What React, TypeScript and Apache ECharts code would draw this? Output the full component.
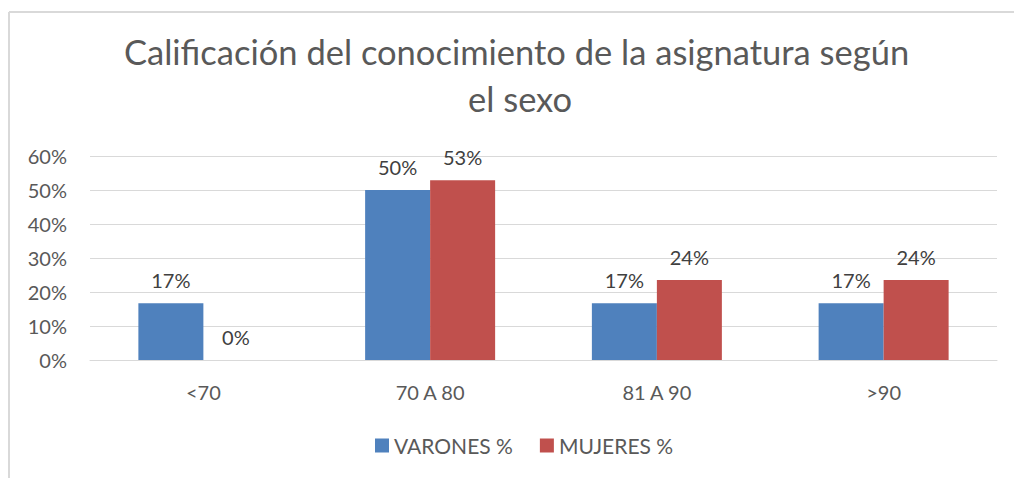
import React, { useEffect, useRef } from "react";
import * as echarts from "echarts";

const categories = ["<70", "70 A 80", "81 A 90", ">90"];
const varones = [0.167, 0.5, 0.167, 0.167];
const mujeres = [0, 0.529, 0.235, 0.235];
const seriesNames = ["VARONES %", "MUJERES %"];
const titleLines = ["Calificación del conocimiento de la asignatura según", "el sexo"];

const FONT = "Lato, 'Noto Sans', sans-serif";
const TEXT = "#595959";

export default function App() {
  const ref = useRef<HTMLDivElement>(null);
  useEffect(() => {
    if (!ref.current) return;
    const chart = echarts.init(ref.current, undefined, { renderer: "svg" });
    const label = {
      show: true,
      position: "top",
      distance: 13,
      fontSize: 20,
      color: "#404040",
      fontFamily: FONT,
      formatter: (p: any) => Math.round(p.value * 100) + "%",
    };
    const titleStyle = { fontSize: 34.5, fontWeight: "normal", color: TEXT, fontFamily: FONT };
    chart.setOption({
      animation: false,
      backgroundColor: "#fff",
      textStyle: { fontFamily: FONT },
      title: [
        { text: titleLines[0], left: 124, top: 34, padding: 0, textStyle: titleStyle },
        { text: titleLines[1], left: 468, top: 81, padding: 0, textStyle: titleStyle },
      ],
      graphic: [
        { type: "line", shape: { x1: 9, y1: 12, x2: 9, y2: 478 }, style: { stroke: "#d9d9d9", lineWidth: 2 } },
        { type: "line", shape: { x1: 9, y1: 12, x2: 1014, y2: 12 }, style: { stroke: "#d9d9d9", lineWidth: 2 } },
      ],
      legend: {
        data: seriesNames,
        left: 375,
        top: 435,
        padding: 0,
        itemWidth: 14,
        itemHeight: 14,
        itemGap: 27,
        icon: "rect",
        textStyle: { fontSize: 21, color: TEXT, fontFamily: FONT },
      },
      grid: { left: 90, right: 17, top: 156, bottom: 118 },
      xAxis: {
        type: "category",
        data: categories,
        axisLine: { lineStyle: { color: "#d9d9d9" } },
        axisTick: { show: false },
        axisLabel: { fontSize: 20, color: TEXT, margin: 22, fontFamily: FONT },
      },
      yAxis: {
        type: "value",
        min: 0,
        max: 0.6,
        interval: 0.1,
        axisLine: { show: false },
        axisTick: { show: false },
        splitLine: { lineStyle: { color: "#d9d9d9", width: 1 } },
        axisLabel: {
          fontSize: 20,
          color: TEXT,
          margin: 23,
          fontFamily: FONT,
          formatter: (v: number) => Math.round(v * 100) + "%",
        },
      },
      series: [
        { name: seriesNames[0], type: "bar", data: varones, barWidth: 65, barGap: "0%", itemStyle: { color: "#4f81bd" }, label },
        { name: seriesNames[1], type: "bar", data: mujeres, barWidth: 65, barGap: "0%", itemStyle: { color: "#c0504d" }, label },
      ],
    });
    return () => chart.dispose();
  }, []);
  return <div ref={ref} style={{ position: "fixed", left: 0, top: 0, width: 1014, height: 478 }} />;
}
